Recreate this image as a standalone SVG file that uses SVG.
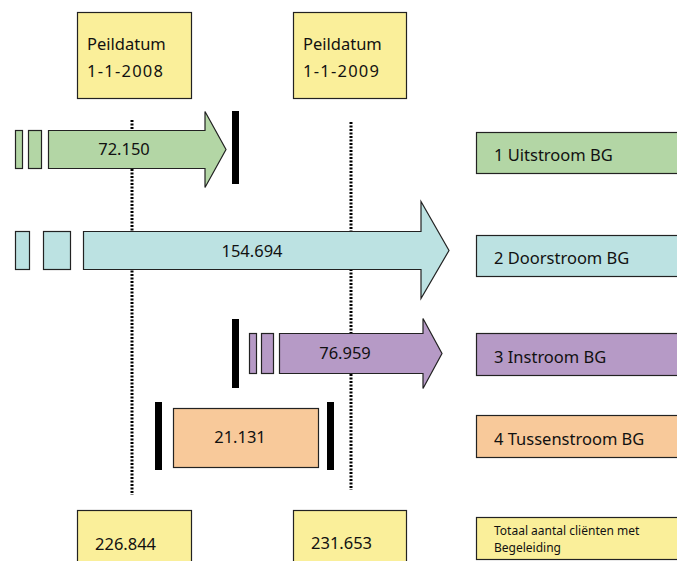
<svg xmlns="http://www.w3.org/2000/svg" width="677" height="561" viewBox="0 0 677 561">
<style>
text{font-family:"Noto Sans","Open Sans",sans-serif;fill:#111;}
.b{stroke:#222;stroke-width:1.2;}
.y{fill:#faef9a;}
.g{fill:#b3d6a5;}
.c{fill:#bce2e2;}
.p{fill:#b69ac6;}
.o{fill:#f8c99a;}
.dot{stroke:#000;stroke-width:3;stroke-dasharray:2 1.5;fill:none;}
.bar{fill:#000;}
.t16{font-size:16.5px;}
.t12{font-size:12px;}
</style>
<rect width="677" height="561" fill="#fff"/>
<g id="connectors">
<line class="dot" x1="132" y1="120" x2="132" y2="495"/>
<line class="dot" x1="351" y1="122" x2="351" y2="490"/>
</g>
<g id="peil2008">
<rect class="y b" x="77.5" y="12.5" width="114" height="86"/>
<text class="t16" x="87" y="50">Peildatum</text>
<text class="t16" x="87" y="77" textLength="76" lengthAdjust="spacing">1-1-2008</text>
</g>
<g id="peil2009">
<rect class="y b" x="293.5" y="12.5" width="113" height="86"/>
<text class="t16" x="303" y="50">Peildatum</text>
<text class="t16" x="303" y="77" textLength="76" lengthAdjust="spacing">1-1-2009</text>
</g>
<g id="uitstroom">
<rect class="g b" x="15.5" y="130.5" width="7" height="38"/>
<rect class="g b" x="28.5" y="130.5" width="13" height="38"/>
<polygon class="g b" points="48.5,130.5 205,130.5 205,111.5 226,149.5 205,187.5 205,168.5 48.5,168.5"/>
<text class="t16" x="124" y="155" text-anchor="middle">72.150</text>
<rect class="bar" x="232" y="111" width="7" height="73"/>
</g>
<g id="doorstroom">
<rect class="c b" x="15.5" y="231.5" width="14" height="38"/>
<rect class="c b" x="43.5" y="231.5" width="27" height="38"/>
<polygon class="c b" points="83.5,231.5 421,231.5 421,201.5 449,250.5 421,298.5 421,269.5 83.5,269.5"/>
<text class="t16" x="252" y="257" text-anchor="middle">154.694</text>
</g>
<g id="instroom">
<rect class="bar" x="232" y="319" width="7" height="69"/>
<rect class="p b" x="249.5" y="333.5" width="7" height="40"/>
<rect class="p b" x="261.5" y="333.5" width="12" height="40"/>
<polygon class="p b" points="279.5,333.5 423,333.5 423,318.5 442,353.5 423,388.5 423,373.5 279.5,373.5"/>
<text class="t16" x="345" y="359" text-anchor="middle">76.959</text>
</g>
<g id="tussenstroom">
<rect class="bar" x="155" y="402" width="7" height="68"/>
<rect class="o b" x="173.5" y="408.5" width="145" height="59"/>
<text class="t16" x="240" y="443" text-anchor="middle">21.131</text>
<rect class="bar" x="327" y="402" width="7" height="68"/>
</g>
<g id="legend1">
<rect class="g b" x="476.5" y="132.5" width="210" height="41"/>
<text class="t16" x="494" y="161">1 Uitstroom BG</text>
</g>
<g id="legend2">
<rect class="c b" x="476.5" y="235.5" width="210" height="41"/>
<text class="t16" x="494" y="264">2 Doorstroom BG</text>
</g>
<g id="legend3">
<rect class="p b" x="476.5" y="333.5" width="210" height="42"/>
<text class="t16" x="494" y="363">3 Instroom BG</text>
</g>
<g id="legend4">
<rect class="o b" x="476.5" y="415.5" width="210" height="42"/>
<text class="t16" x="494" y="445">4 Tussenstroom BG</text>
</g>
<g id="legend5">
<rect class="y b" x="476.5" y="517.5" width="210" height="42"/>
<text class="t12" x="494" y="535">Totaal aantal cliënten met</text>
<text class="t12" x="494" y="552">Begeleiding</text>
</g>
<g id="totaal2008">
<rect class="y b" x="77.5" y="510.5" width="114" height="60"/>
<text class="t16" x="95" y="550">226.844</text>
</g>
<g id="totaal2009">
<rect class="y b" x="293.5" y="510.5" width="113" height="60"/>
<text class="t16" x="311" y="549">231.653</text>
</g>
</svg>
